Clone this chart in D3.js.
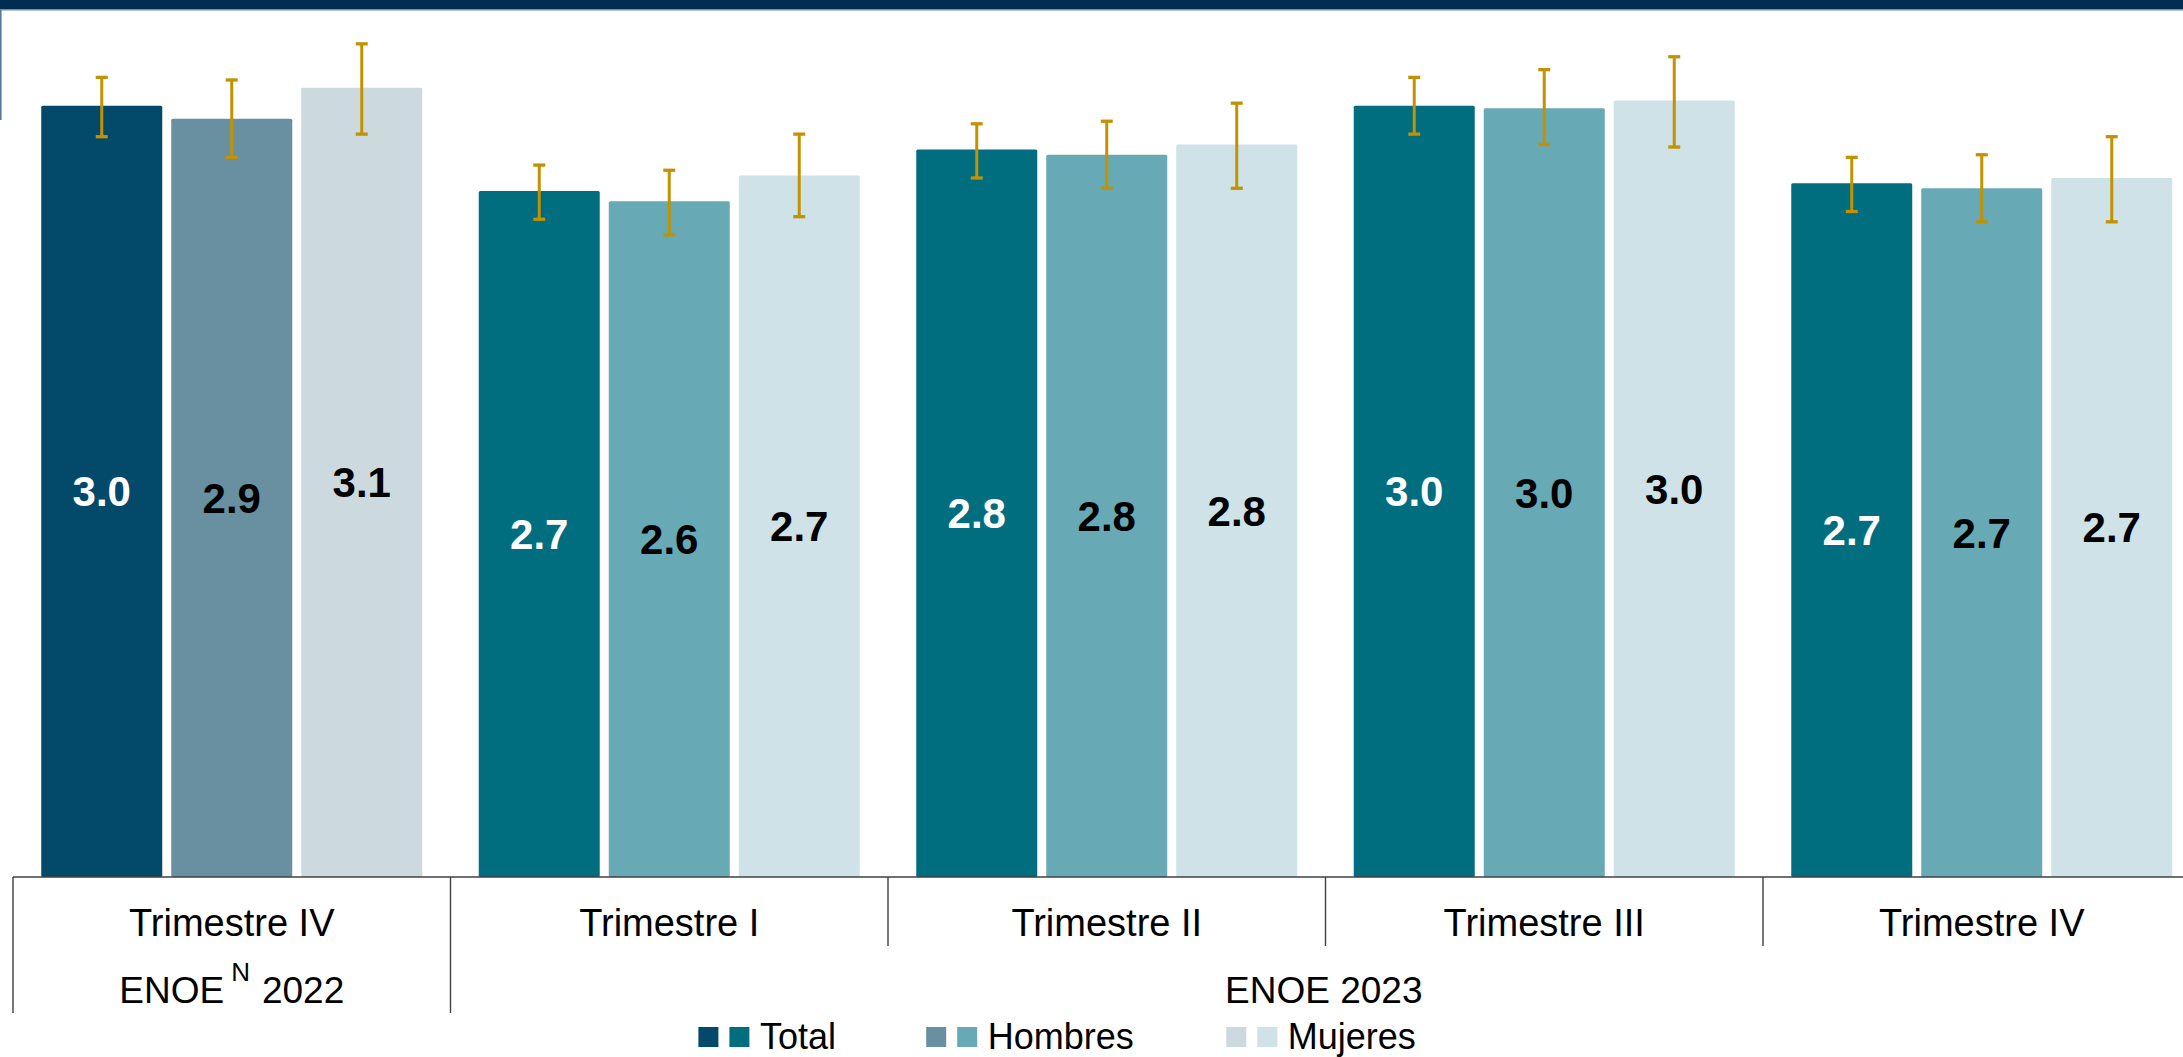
<!DOCTYPE html>
<html>
<head>
<meta charset="utf-8">
<script src="https://cdn.jsdelivr.net/npm/d3@7"></script>
<style>
  html, body { margin: 0; padding: 0; background: #ffffff; }
  svg { display: block; font-family: "Liberation Sans", Arial, sans-serif; }
</style>
</head>
<body>
<svg id="chart" width="2183" height="1057"></svg>
<script>
// ---------- data ----------
const categories = ["Trimestre IV", "Trimestre I", "Trimestre II", "Trimestre III", "Trimestre IV"];
const surveyOfCategory = [0, 1, 1, 1, 1];
const surveys = ["ENOE", "ENOE 2023"];
const series = ["Total", "Hombres", "Mujeres"];

const total   = [2.99, 2.66, 2.82, 2.99, 2.69];
const hombres = [2.94, 2.62, 2.80, 2.98, 2.67];
const mujeres = [3.06, 2.72, 2.84, 3.01, 2.71];

const totalLo   = [2.87, 2.55, 2.71, 2.88, 2.58];
const totalHi   = [3.10, 2.76, 2.92, 3.10, 2.79];
const hombresLo = [2.79, 2.49, 2.67, 2.84, 2.54];
const hombresHi = [3.09, 2.74, 2.93, 3.13, 2.80];
const mujeresLo = [2.88, 2.56, 2.67, 2.83, 2.54];
const mujeresHi = [3.23, 2.88, 3.00, 3.18, 2.87];

// ---------- styles ----------
const colors2022 = ["#02496a", "#6890a0", "#ccdae0"];
const colors2023 = ["#006e7f", "#67a9b5", "#cee2e7"];
const labelColors = ["#ffffff", "#000000", "#000000"];
const errColor = "#c39200";

const values = [total, hombres, mujeres];
const los = [totalLo, hombresLo, mujeresLo];
const his = [totalHi, hombresHi, mujeresHi];

const svg = d3.select("#chart");
const W = 2183, H = 1057;
const baseY = 877;

// header band
svg.append("rect").attr("x", 0).attr("y", 0).attr("width", W).attr("height", 9.5).attr("fill", "#022d52");
svg.append("line").attr("x1", 0).attr("x2", W).attr("y1", 10).attr("y2", 10).attr("stroke", "#6d8aa5").attr("stroke-width", 1);
svg.append("line").attr("x1", 0.8).attr("x2", 0.8).attr("y1", 10).attr("y2", 120).attr("stroke", "#5a7a9a").attr("stroke-width", 1.6);

// scales
const idx = categories.map((d, i) => i);
const x0 = d3.scaleBand().domain(idx).range([13, 13 + 5 * 437.5]).paddingInner(0).paddingOuter(0);
const x1 = d3.scaleBand().domain(series).range([0, x0.bandwidth()]).paddingInner(9 / 130).paddingOuter(0.2173);
const y = d3.scaleLinear().domain([0, 3.4]).range([baseY, 0]);
const fmt = d3.format(".1f");

const rows = [];
idx.forEach(i => series.forEach((s, j) => {
  rows.push({ i, j, s, v: values[j][i], lo: los[j][i], hi: his[j][i] });
}));

// bars
svg.append("g").selectAll("rect").data(rows).join("rect")
  .attr("x", d => x0(d.i) + x1(d.s))
  .attr("y", d => y(d.v))
  .attr("width", x1.bandwidth())
  .attr("height", d => y(0) - y(d.v))
  .attr("rx", 1.5)
  .attr("fill", d => (surveyOfCategory[d.i] === 0 ? colors2022 : colors2023)[d.j]);

// value labels
svg.append("g").selectAll("text").data(rows).join("text")
  .attr("x", d => x0(d.i) + x1(d.s) + x1.bandwidth() / 2)
  .attr("y", d => (y(d.v) + y(0)) / 2 + 15)
  .attr("text-anchor", "middle")
  .attr("font-size", 42)
  .attr("font-weight", "bold")
  .attr("fill", d => labelColors[d.j])
  .text(d => fmt(d.v));

// error bars
const eg = svg.append("g").attr("stroke", errColor).attr("fill", "none");
rows.forEach(d => {
  const cx = x0(d.i) + x1(d.s) + x1.bandwidth() / 2;
  eg.append("line").attr("x1", cx).attr("x2", cx).attr("y1", y(d.hi)).attr("y2", y(d.lo)).attr("stroke-width", 3);
  eg.append("line").attr("x1", cx - 6).attr("x2", cx + 6).attr("y1", y(d.hi)).attr("y2", y(d.hi)).attr("stroke-width", 3.3);
  eg.append("line").attr("x1", cx - 6).attr("x2", cx + 6).attr("y1", y(d.lo)).attr("y2", y(d.lo)).attr("stroke-width", 3.3);
});

// axis line
svg.append("line").attr("x1", 13).attr("x2", W).attr("y1", baseY).attr("y2", baseY)
  .attr("stroke", "#404040").attr("stroke-width", 1.4);

// separators
const sepX = idx.map(i => x0(i));
svg.append("g").selectAll("line").data(sepX).join("line")
  .attr("x1", d => d).attr("x2", d => d)
  .attr("y1", baseY)
  .attr("y2", (d, i) => (i <= 1 ? 1013 : 946))
  .attr("stroke", "#404040").attr("stroke-width", 1.4);

// category labels
svg.append("g").selectAll("text").data(idx).join("text")
  .attr("x", i => x0(i) + x0.bandwidth() / 2)
  .attr("y", 936)
  .attr("text-anchor", "middle")
  .attr("font-size", 38)
  .attr("fill", "#000")
  .text(i => categories[i]);

// survey labels
const t22 = svg.append("text")
  .attr("x", x0(0) + x0.bandwidth() / 2)
  .attr("y", 1003)
  .attr("text-anchor", "middle")
  .attr("font-size", 37)
  .attr("fill", "#000");
t22.append("tspan").text(surveys[0]);
t22.append("tspan").attr("dx", 7).attr("dy", -22).attr("font-size", 26).text("N");
t22.append("tspan").attr("dx", 12).attr("dy", 22).text("2022");

svg.append("text")
  .attr("x", (x0(1) + W) / 2 + 7)
  .attr("y", 1003)
  .attr("text-anchor", "middle")
  .attr("font-size", 37)
  .attr("fill", "#000")
  .text(surveys[1]);

// legend
const legendX = [698.4, 926.2, 1226.3];
const lg = svg.append("g").selectAll("g").data(series).join("g")
  .attr("transform", (d, j) => `translate(${legendX[j]},0)`);
lg.append("rect").attr("x", 0).attr("y", 1027).attr("width", 20).attr("height", 20)
  .attr("fill", (d, j) => colors2022[j]);
lg.append("rect").attr("x", 31).attr("y", 1027).attr("width", 20).attr("height", 20)
  .attr("fill", (d, j) => colors2023[j]);
lg.append("text")
  .attr("x", 61.5)
  .attr("y", 1049)
  .attr("font-size", 36)
  .attr("fill", "#000")
  .text(d => d);
</script>
</body>
</html>
